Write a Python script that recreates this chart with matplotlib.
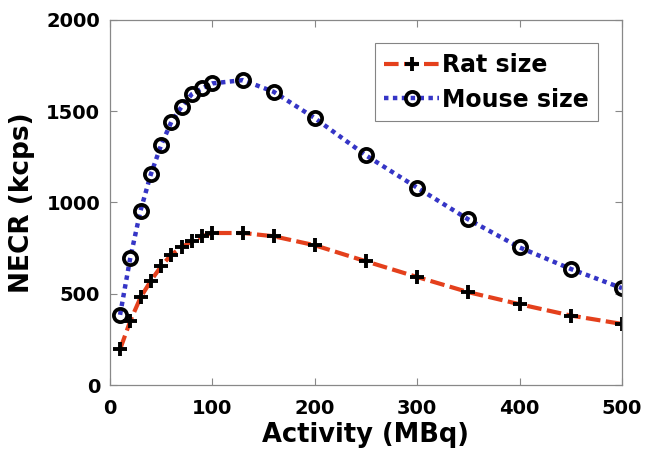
import matplotlib
matplotlib.use('Agg')
from matplotlib import pyplot as plt

# Actividad (MBq) y NECR (kcps)
actividad = [10, 20, 30, 40, 50, 60, 70, 80, 90, 100, 130, 160, 200, 250, 300, 350, 400, 450, 500]
necr_rata = [196, 352, 480, 571, 650, 714, 754, 788, 815, 833, 833, 815, 766, 678, 592, 509, 443, 381, 335]
necr_raton = [385, 698, 956, 1154, 1313, 1441, 1524, 1593, 1625, 1652, 1670, 1606, 1462, 1258, 1081, 907, 754, 636, 531]

xticks = [0, 100, 200, 300, 400, 500]
yticks = [0, 500, 1000, 1500, 2000]

plt.rcParams['font.family'] = ['DejaVu Sans']
plt.rcParams['font.weight'] = 'bold'

fig = plt.figure(figsize=(6.46, 4.51), dpi=100)
ax = fig.add_axes([0.170, 0.146, 0.793, 0.810])

ax.plot(actividad, necr_rata, color='#e4401c', linestyle=(0, (3.5, 1.3)), linewidth=3,
        marker='+', markersize=10, markeredgewidth=2.8, markeredgecolor='black',
        label='Rat size')
ax.plot(actividad, necr_raton, color='#3535c6', linestyle=(0, (1, 1)), linewidth=3.2,
        marker='o', markersize=9.5, markeredgewidth=2.7, markeredgecolor='black',
        markerfacecolor='none', label='Mouse size')

ax.set_xlim(0, 500)
ax.set_ylim(0, 2000)
ax.set_xticks(xticks)
ax.set_yticks(yticks)
ax.tick_params(direction='in', length=5, width=0.8, color='#888888',
               labelsize=14, top=True, right=True)
ax.tick_params(axis='x', pad=10)
ax.tick_params(axis='y', pad=7)
for s in ax.spines.values():
    s.set_color('#888888')
    s.set_linewidth(0.9)

ax.set_xlabel('Activity (MBq)', fontsize=18.5, fontweight='bold', labelpad=3)
ax.set_ylabel('NECR (kcps)', fontsize=19, fontweight='bold', labelpad=8)

leg = ax.legend(loc='upper right', fontsize=17, frameon=True, fancybox=False,
                handlelength=2.3, handletextpad=0.15, borderpad=0.4,
                labelspacing=0.45, borderaxespad=1.0)
leg.get_frame().set_edgecolor('#666666')
leg.get_frame().set_linewidth(0.8)

plt.savefig('out.png', dpi=100)
